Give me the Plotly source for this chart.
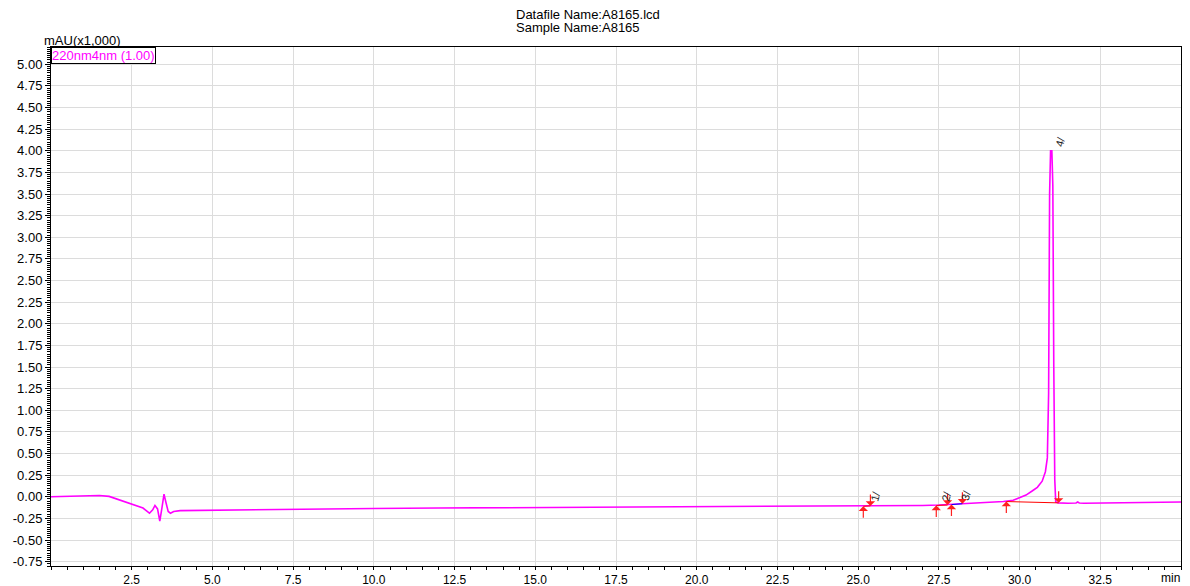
import plotly.graph_objects as go

# ---------------- data ----------------
time_min = [0.0, 0.5, 1.0, 1.5, 1.8, 2.0, 2.3, 2.6, 2.85, 2.95, 3.05, 3.15, 3.22, 3.3, 3.37,
            3.44, 3.5, 3.57, 3.63, 3.7, 3.8, 4.0, 5.0, 6.0, 8.0, 10.0, 12.0, 15.0, 18.0, 20.0,
            22.0, 24.0, 25.0, 25.3, 26.0, 27.0, 27.5, 28.0, 28.5, 29.0, 29.5, 29.8, 30.0, 30.2,
            30.4, 30.55, 30.7, 30.8, 30.86, 30.9, 30.93, 30.96, 31.0, 31.03, 31.06, 31.09,
            31.12, 31.2, 31.5, 31.75, 31.8, 31.85, 32.0, 33.0, 34.0, 35.0]
signal_mau = [0.0, 0.005, 0.015, 0.015, 0.005, -0.02, -0.06, -0.10, -0.13, -0.16, -0.19, -0.15,
              -0.10, -0.14, -0.28, -0.12, 0.03, -0.08, -0.17, -0.19, -0.17, -0.16, -0.155, -0.15,
              -0.145, -0.135, -0.13, -0.125, -0.12, -0.115, -0.11, -0.107, -0.105, -0.102, -0.10,
              -0.10, -0.095, -0.085, -0.075, -0.07, -0.055, -0.04, -0.01, 0.02, 0.07, 0.11, 0.18,
              0.29, 0.45, 1.2, 3.5, 4.0, 4.0, 3.6, 1.5, 0.2, -0.06, -0.07, -0.075, -0.072, -0.06,
              -0.072, -0.075, -0.07, -0.065, -0.06]

peak_ids = ["1", "2", "3", "4"]
peak_start_t = [25.16, 27.42, 27.89, 29.59]
peak_start_v = [-0.11, -0.10, -0.09, -0.055]
peak_end_t = [25.38, 27.77, 28.23, 31.21]
peak_end_v = [-0.105, -0.095, -0.08, -0.07]
peak_apex_t = [25.3, 27.5, 28.1, 31.0]
peak_apex_v = [-0.10, -0.10, -0.085, 4.0]
baseline_colors = ["red", "red", "blue", "red"]

x_ticks = [2.5, 5.0, 7.5, 10.0, 12.5, 15.0, 17.5, 20.0, 22.5, 25.0, 27.5, 30.0, 32.5]
x_tick_text = ["2.5", "5.0", "7.5", "10.0", "12.5", "15.0", "17.5", "20.0", "22.5", "25.0",
               "27.5", "30.0", "32.5"]
y_ticks = [-0.75, -0.5, -0.25, 0.0, 0.25, 0.5, 0.75, 1.0, 1.25, 1.5, 1.75, 2.0, 2.25, 2.5,
           2.75, 3.0, 3.25, 3.5, 3.75, 4.0, 4.25, 4.5, 4.75, 5.0]
y_tick_text = ["-0.75", "-0.50", "-0.25", "0.00", "0.25", "0.50", "0.75", "1.00", "1.25",
               "1.50", "1.75", "2.00", "2.25", "2.50", "2.75", "3.00", "3.25", "3.50", "3.75",
               "4.00", "4.25", "4.50", "4.75", "5.00"]

title_lines = ["Datafile Name:A8165.lcd", "Sample Name:A8165"]
y_unit = "mAU(x1,000)"
x_unit = "min"
channel_name = "220nm4nm (1.00)"

# ---------------- figure ----------------
# The page body keeps its default 8px margin, so the figure is sized/placed to compensate.
FONT = "Liberation Sans, Arial, sans-serif"
fig = go.Figure()

fig.add_trace(go.Scatter(x=time_min, y=signal_mau, mode="lines",
                         line=dict(color="#ff00ff", width=1.6), hoverinfo="skip",
                         showlegend=False))

for i in range(len(peak_ids)):
    fig.add_trace(go.Scatter(x=[peak_start_t[i], peak_end_t[i]],
                             y=[peak_start_v[i], peak_end_v[i]], mode="lines",
                             line=dict(color=baseline_colors[i], width=1), hoverinfo="skip",
                             showlegend=False))

annotations = []
for i in range(len(peak_ids)):
    annotations.append(dict(x=peak_start_t[i], y=peak_start_v[i], xref="x", yref="y",
                            text="", showarrow=True, arrowhead=1, arrowsize=1.3, arrowwidth=1.2,
                            arrowcolor="#ff2020", ax=0, ay=13))
    annotations.append(dict(x=peak_end_t[i], y=peak_end_v[i], xref="x", yref="y",
                            text="", showarrow=True, arrowhead=1, arrowsize=1.3, arrowwidth=1.2,
                            arrowcolor="#ff2020", ax=0, ay=-13))
    annotations.append(dict(x=peak_apex_t[i], y=peak_apex_v[i], xref="x", yref="y",
                            text=peak_ids[i] + "/", showarrow=False, textangle=-75,
                            xshift=8, yshift=9,
                            font=dict(family=FONT, size=11, color="#222222")))

annotations.append(dict(x=0.4095, y=1.0, xref="paper", yref="paper", yanchor="middle",
                        xanchor="left", yshift=33, text=title_lines[0], showarrow=False,
                        font=dict(family=FONT, size=13, color="black")))
annotations.append(dict(x=0.4095, y=1.0, xref="paper", yref="paper", yanchor="middle",
                        xanchor="left", yshift=20, text=title_lines[1], showarrow=False,
                        font=dict(family=FONT, size=13, color="black")))
annotations.append(dict(x=-0.008, y=1.0, xref="paper", yref="paper", yanchor="bottom",
                        xanchor="left", yshift=-3, text=y_unit, showarrow=False,
                        font=dict(family=FONT, size=13, color="black")))
annotations.append(dict(x=1.0, y=0.0, xref="paper", yref="paper", yanchor="top",
                        xanchor="right", xshift=1, yshift=-3, text=x_unit, showarrow=False,
                        font=dict(family=FONT, size=12, color="black")))
annotations.append(dict(x=0.0, y=1.0, xref="paper", yref="paper", yanchor="top",
                        xanchor="left", text=channel_name, showarrow=False,
                        bordercolor="black", borderwidth=1, borderpad=0, bgcolor="white",
                        font=dict(family=FONT, size=13, color="#ff00ff")))

fig.update_layout(
    width=1182, height=578,
    margin=dict(l=43, r=9, t=39, b=20, autoexpand=False),
    paper_bgcolor="white", plot_bgcolor="white",
    font=dict(family=FONT, size=13, color="black"),
    annotations=annotations,
    showlegend=False,
)
fig.update_xaxes(range=[0, 35], tickmode="array", tickvals=x_ticks, ticktext=x_tick_text,
                 automargin=False,
                 showline=True, linecolor="black", linewidth=1, mirror=True,
                 ticks="outside", ticklen=3, tickcolor="black",
                 showgrid=True, gridcolor="#dcdcdc", gridwidth=1, zeroline=False,
                 minor=dict(dtick=0.5, tick0=0, ticks="outside", ticklen=3,
                            tickcolor="black", showgrid=False),
                 tickfont=dict(family=FONT, size=12, color="black"))
fig.update_yaxes(range=[-0.8, 5.2], tickmode="array", tickvals=y_ticks, ticktext=y_tick_text,
                 automargin=False,
                 showline=True, linecolor="black", linewidth=1, mirror=True,
                 ticks="outside", ticklen=5, tickcolor="black",
                 showgrid=True, gridcolor="#dcdcdc", gridwidth=1, zeroline=False,
                 minor=dict(dtick=0.025, tick0=0, ticks="outside", ticklen=3,
                            tickcolor="black", showgrid=False),
                 tickfont=dict(family=FONT, size=13, color="black"))

fig.write_html("out.html")
